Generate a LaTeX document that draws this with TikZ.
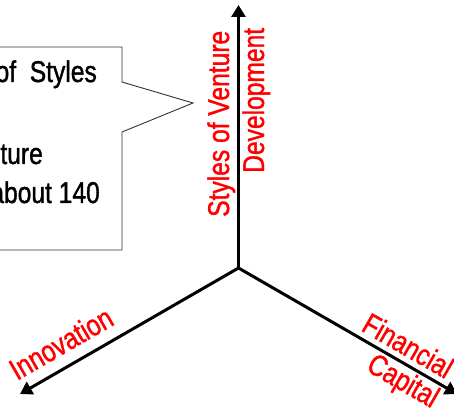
\documentclass[tikz,border=0pt]{standalone}
\usepackage{fontspec}
\usetikzlibrary{arrows.meta}
\newfontfamily\narrowsans[FakeStretch=0.82,FakeBold=1.2]{Liberation Sans}
\begin{document}
\begin{tikzpicture}[x=1pt,y=-1pt,
  axis/.style={line width=3pt,-{Triangle[length=12pt,width=14pt]}},
  axislabel/.style={text=red,font=\narrowsans\fontsize{30}{36}\selectfont,inner sep=0pt},
  notetext/.style={text=black,font=\narrowsans\fontsize{30}{36}\selectfont,inner sep=0pt},
  callout/.style={draw=black!80,line width=0.9pt,fill=white}]
  \useasboundingbox (0,0) rectangle (454,411);

  % callout box with its pointer
  \draw[callout] (-10,47) -- (122,47) -- (122,82) -- (193,103) -- (122,132)
    -- (122,250) -- (-10,250);
  \node[notetext,anchor=base east] (n1) at (97,82) {of\ \ Styles};
  \node[notetext,anchor=base east] (n2) at (43,164) {ture};
  \node[notetext,anchor=base east] (n3) at (100,203) {about 140};

  % the three axes
  \coordinate (o) at (238.5,268);
  \coordinate (up) at (238.5,5);
  \coordinate (left) at (20,394);
  \coordinate (right) at (457,394);
  \draw[axis] (o) -- (up);
  \draw[axis] (o) -- (left);
  \draw[axis] (o) -- (right);

  % axis labels
  \node[axislabel,rotate=90,anchor=base west] (s1) at (229,217) {Styles of Venture};
  \node[axislabel,rotate=90,anchor=base west] (s2) at (264,173) {Development};
  \node[axislabel,rotate=30,anchor=base west] (inn) at (17,381) {Innovation};
  \node[axislabel,rotate=-30,anchor=base west] (fin) at (360,330) {Financial};
  \node[axislabel,rotate=-30,anchor=base west] (cap) at (365,370) {Capital};
\end{tikzpicture}
\end{document}
